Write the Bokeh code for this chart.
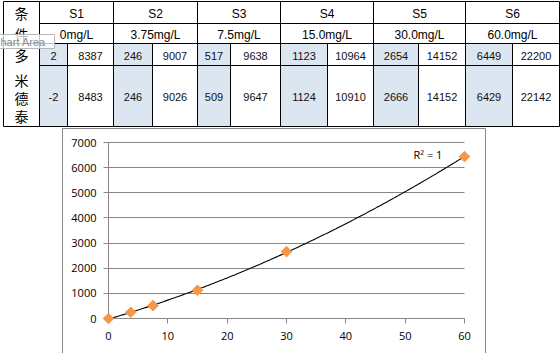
import numpy as np
from bokeh.plotting import figure
from bokeh.models import Range1d, Label, FixedTicker, LinearAxis, Grid
from bokeh.core.properties import value
from bokeh.embed import file_html
from bokeh.resources import INLINE

# ---------------- data ----------------
conditions = ["S1", "S2", "S3", "S4", "S5", "S6"]
conc_labels = ["0mg/L", "3.75mg/L", "7.5mg/L", "15.0mg/L", "30.0mg/L", "60.0mg/L"]
conc_values = [0.0, 3.75, 7.5, 15.0, 30.0, 60.0]
area_run1 = [2, 246, 517, 1123, 2654, 6449]
is_run1 = [8387, 9007, 9638, 10964, 14152, 22200]
area_run2 = [-2, 246, 509, 1124, 2666, 6429]
is_run2 = [8483, 9026, 9647, 10910, 14152, 22142]
header_label = "条件"
drug_label = "多米德泰"
x_ticks = [0, 10, 20, 30, 40, 50, 60]
y_ticks = [0, 1000, 2000, 3000, 4000, 5000, 6000, 7000]
x_lim = (0, 60)
y_lim = (0, 7000)

# ---------------- layout (pixels) ----------------
W, H = 560, 353
left_edge = 3
group_edges = [39, 113, 197, 280, 373, 465, 559]
split_edges = [67, 152, 230, 327, 418, 512]
row_edges = [1, 23, 43, 65, 126]
chart_box = (62, 485, 128)          # left, right, top of the chart area border
plot_px = (108, 464, 318, 142)      # plot area: x0, x1, y(bottom), y(top)
BLUE = "#DCE6F1"
GREY = "#868686"

p = figure(width=W, height=H, x_range=Range1d(0, W), y_range=Range1d(H, 0),
           output_backend="svg", toolbar_location=None, min_border=0,
           x_axis_location=None, y_axis_location=None)
p.grid.visible = False
p.outline_line_color = None
p.background_fill_color = "white"
p.border_fill_color = "white"

# ---------- table ----------
p.quad(left=group_edges[:-1], right=split_edges,
       top=[row_edges[2]] * 6, bottom=[row_edges[4]] * 6,
       fill_color=BLUE, line_color=None)

x0s, y0s, x1s, y1s = [], [], [], []
for i, y in enumerate(row_edges):
    xs_ = left_edge if i in (0, 2, 4) else group_edges[0]
    x0s.append(xs_); x1s.append(group_edges[-1]); y0s.append(y); y1s.append(y)
for x in [left_edge] + group_edges:
    x0s.append(x); x1s.append(x); y0s.append(row_edges[0]); y1s.append(row_edges[-1])
for x in split_edges:
    x0s.append(x); x1s.append(x); y0s.append(row_edges[2]); y1s.append(row_edges[-1])
p.segment(x0=x0s, y0=y0s, x1=x1s, y1=y1s, line_color="black", line_width=1)

gc = [(group_edges[i] + group_edges[i + 1]) / 2 for i in range(6)]
lc = [(group_edges[i] + split_edges[i]) / 2 for i in range(6)]
rc = [(split_edges[i] + group_edges[i + 1]) / 2 for i in range(6)]
r_mid = [(row_edges[i] + row_edges[i + 1]) / 2 + 1 for i in range(4)]

head_font = value("Liberation Sans")
num_font = value("Liberation Sans")
p.text(x=gc, y=[r_mid[0]] * 6, text=conditions, text_align="center", text_baseline="middle",
       text_font=head_font, text_font_size="12px", text_color="black")
p.text(x=gc, y=[r_mid[1]] * 6, text=conc_labels, text_align="center", text_baseline="middle",
       text_font=head_font, text_font_size="12px", text_color="black")
for xs_, ys_, vals in ((lc, r_mid[2], area_run1), (rc, r_mid[2], is_run1),
                       (lc, r_mid[3], area_run2), (rc, r_mid[3], is_run2)):
    p.text(x=xs_, y=[ys_] * 6, text=[str(v) for v in vals], text_align="center",
           text_baseline="middle", text_font=num_font, text_font_size="11px",
           text_color="#111111")

cjk = value("Noto Sans CJK SC")
cx = (left_edge + group_edges[0]) / 2
p.text(x=[cx, cx], y=[12, 33], text=list(header_label), text_align="center",
       text_baseline="middle", text_font=cjk, text_font_size="14px", text_color="black")
p.text(x=[cx] * 4, y=[54, 79, 97, 115], text=list(drug_label), text_align="center",
       text_baseline="middle", text_font=cjk, text_font_size="14px", text_color="black")

# ---------- chart area border ----------
cl, cr, ct = chart_box
p.segment(x0=[cl, cl, cr], y0=[ct, ct, ct], x1=[cr, cl, cr], y1=[ct, H + 5, H + 5],
          line_color=GREY, line_width=1)

# ---------- chart (extra ranges mapped onto the plot area) ----------
px0, px1, py0, py1 = plot_px
sx = (px1 - px0) / (x_lim[1] - x_lim[0])
sy = (py0 - py1) / (y_lim[1] - y_lim[0])
p.extra_x_ranges = {"cx": Range1d(x_lim[0] - px0 / sx, x_lim[1] + (W - px1) / sx)}
p.extra_y_ranges = {"cy": Range1d(y_lim[0] - (H - py0) / sy, y_lim[1] + py1 / sy)}

ygrid = Grid(dimension=1, ticker=FixedTicker(ticks=y_ticks), x_range_name="cx",
             y_range_name="cy", grid_line_color=GREY, cross_bounds=x_lim)
p.add_layout(ygrid)

xaxis = LinearAxis(x_range_name="cx", y_range_name="cy", fixed_location=y_lim[0],
                   bounds=x_lim, ticker=FixedTicker(ticks=x_ticks))
yaxis = LinearAxis(x_range_name="cx", y_range_name="cy", fixed_location=x_lim[0],
                   bounds=y_lim, ticker=FixedTicker(ticks=y_ticks))
for ax in (xaxis, yaxis):
    ax.axis_line_color = GREY
    ax.major_tick_line_color = GREY
    ax.major_tick_out = 5
    ax.major_tick_in = 0
    ax.minor_tick_line_color = None
    ax.major_label_text_font = "Open Sans"
    ax.major_label_text_font_size = "11px"
    ax.major_label_text_color = "black"
xaxis.major_label_standoff = 8
yaxis.major_label_standoff = 7
p.add_layout(xaxis, "below")
p.add_layout(yaxis, "left")

y_mean = (np.array(area_run1) + np.array(area_run2)) / 2.0
coef = np.polyfit(conc_values, y_mean, 2)
xs = np.linspace(x_lim[0], x_lim[1], 241)
ys = np.polyval(coef, xs)

p.line(xs, ys, line_color="black", line_width=1.1, x_range_name="cx", y_range_name="cy")
p.scatter(conc_values, y_mean, marker="square", angle=np.pi / 4, size=7.5,
          fill_color="#F79646", line_color="#F79646", x_range_name="cx", y_range_name="cy",
          level="overlay")

p.add_layout(Label(x=51.4, y=6520, text="R² = 1", text_font="Open Sans",
                   text_font_size="11px", text_baseline="middle", text_color="black",
                   x_range_name="cx", y_range_name="cy"))

# "Chart Area" tooltip remnant (on top)
p.quad(left=[-1], right=[54], top=[34], bottom=[48], fill_color="white", fill_alpha=0.75,
       line_color="#B8B8B8", level="overlay")
p.text(x=[0], y=[41.5], text=["hart Area"], text_align="left", text_baseline="middle",
       text_font=value("Liberation Sans"), text_font_size="11px", text_color="#8C8C8C",
       level="overlay")

open("out.html", "w").write(file_html(p, INLINE))
